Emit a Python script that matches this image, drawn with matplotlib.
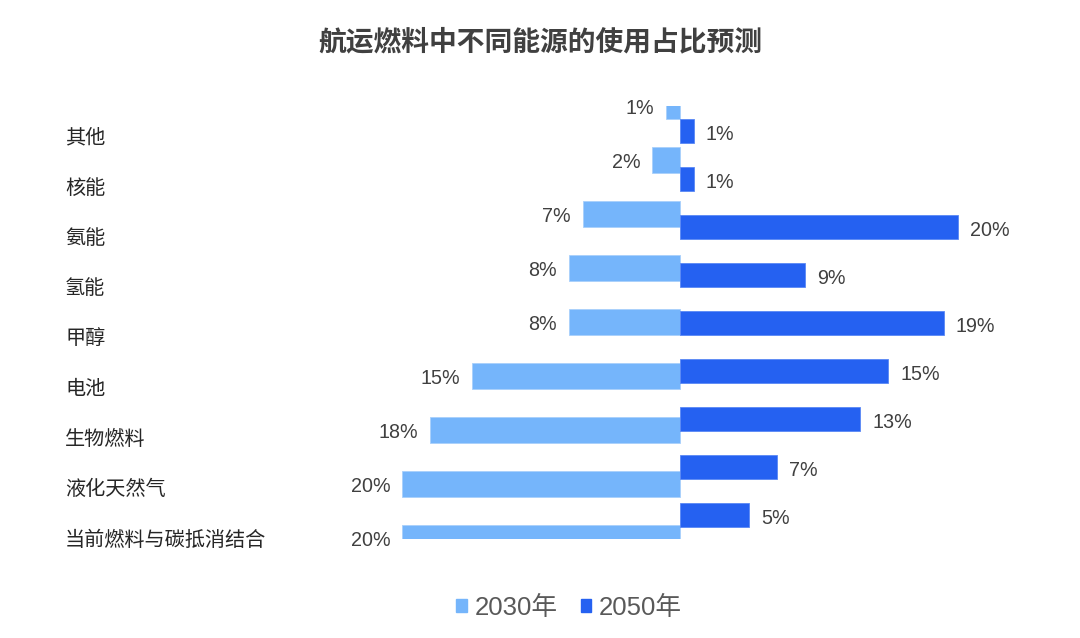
import numpy as np
import matplotlib.pyplot as plt
from matplotlib.patches import Rectangle, Patch

plt.rcParams['font.family'] = ['Noto Sans CJK SC', 'DejaVu Sans']

# data
categories = ['其他', '核能', '氨能', '氢能', '甲醇', '电池', '生物燃料', '液化天然气', '当前燃料与碳抵消结合']
share_2030 = [1, 2, 7, 8, 8, 15, 18, 20, 20]
share_2050 = [1, 1, 20, 9, 19, 15, 13, 7, 5]
series_names = ['2030年', '2050年']

c30 = '#75B5FB'
c50 = '#2561F1'
txt = '#404040'

W, H = 1080, 638
px = 13.88  # pixels per percent
fig = plt.figure(figsize=(W / 100, H / 100), dpi=100)
ax = fig.add_axes([0, 0, 1, 1])
ax.set_xlim(-680 / px, (W - 680) / px)
ax.set_ylim(H, 0)
ax.axis('off')

n = len(categories)
y30 = 160 + 54 * (np.arange(n) - 1)
y50 = 131 + 48 * np.arange(n)
ylab = np.linspace(135, 537, n)

bars30 = ax.barh(y30, [-v for v in share_2030], height=26, color=c30,
                 edgecolor='#A9D0FB', linewidth=0.6)
clip = Rectangle((-40, 106), 80, 433, transform=ax.transData)
for b in bars30:
    b.set_clip_path(clip)
ax.barh(y50, share_2050, height=24, color=c50, edgecolor='#5A88F5', linewidth=0.6)

gap = 12 / px
for y, v in zip(y30, share_2030):
    ax.text(-v - gap, y + 3, f'{v}%', ha='right', va='center', fontsize=14.2,
            color=txt, family=['Liberation Sans', 'DejaVu Sans'])
for y, v in zip(y50, share_2050):
    ax.text(v + gap, y + 3, f'{v}%', ha='left', va='center', fontsize=14.2,
            color=txt, family=['Liberation Sans', 'DejaVu Sans'])

for y, c in zip(ylab, categories):
    ax.text(-(680 - 65) / px, y + 3, c, ha='left', va='center', fontsize=14.5, color='#262626')

fig.text(0.5, 1 - 42 / H, '航运燃料中不同能源的使用占比预测', ha='center', va='center',
         fontsize=20, fontweight='bold', color='#404040')

handles = [Patch(color=c30), Patch(color=c50)]
leg = fig.legend(handles, series_names, loc='center', bbox_to_anchor=(569 / W, 1 - 608 / H),
                 ncol=2, frameon=False, handlelength=0.4, handleheight=0.4,
                 handletextpad=0.3, columnspacing=0.9,
                 prop={'family': ['Liberation Sans', 'Noto Sans CJK SC'], 'size': 18.5})
for t in leg.get_texts():
    t.set_color('#595959')

fig.savefig('out.png', dpi=100)
